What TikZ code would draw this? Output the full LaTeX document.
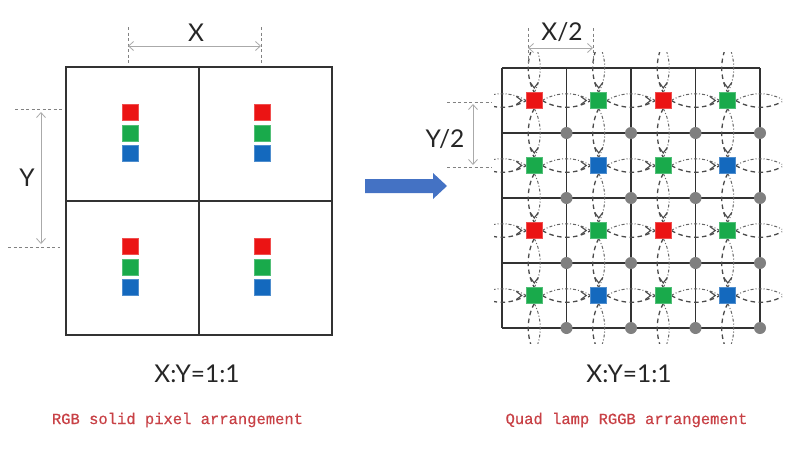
\documentclass[tikz,border=0pt]{standalone}
\usepackage{fontspec}
\setmainfont{Lato}
\setmonofont{Liberation Mono}
\usetikzlibrary{arrows.meta}
\definecolor{pxred}{RGB}{235,20,20}
\definecolor{pxgreen}{RGB}{25,170,75}
\definecolor{pxblue}{RGB}{20,105,190}
\definecolor{gridc}{RGB}{50,50,50}
\definecolor{dimc}{RGB}{170,170,170}
\definecolor{extc}{RGB}{130,130,130}
\definecolor{capc}{RGB}{200,65,70}
\definecolor{arrowblue}{RGB}{68,114,196}
\definecolor{dotc}{RGB}{128,128,128}
\definecolor{lensc}{RGB}{75,75,75}
\begin{document}
\begin{tikzpicture}[x=1pt,y=-1pt,
 px/.style={minimum size=16pt, inner sep=0pt, outer sep=0pt, fill=#1, draw=#1!75!white, line width=0.6pt},
 gridline/.style={draw=gridc, line width=1.7pt},
 dimarrow/.style={draw=dimc, line width=0.8pt, {Straight Barb[length=5pt,width=9pt]}-{Straight Barb[length=5pt,width=9pt]}},
 extline/.style={draw=extc, line width=0.9pt, dash pattern=on 3pt off 2.5pt},
 lbl/.style={font=\fontsize{24.5}{25}\selectfont, text=black!85, inner sep=0pt},
 capt/.style={font=\ttfamily\fontsize{15.5}{16}\selectfont\addfontfeature{FakeBold=0.6}, text=capc, inner sep=0pt},
 lensa/.style={draw=lensc, line width=1.3pt, dash pattern=on 4.5pt off 3.5pt},
 lensb/.style={draw=lensc!85, line width=1pt, dash pattern=on 3pt off 2pt on 1pt off 2pt},
 chev/.style={draw=lensc, line width=1.1pt},
 gdot/.style={circle, fill=dotc, minimum size=12pt, inner sep=0pt}
]
\useasboundingbox (0,0) rectangle (800,466);

% ---------- left: RGB solid pixels ----------
\draw[gridline] (66,67) rectangle (332,335);
\draw[gridline] (199,67) -- (199,335);
\draw[gridline] (66,201) -- (332,201);
\foreach \cx/\n in {130/a,262.5/b} {
  \foreach \cy/\c/\m in {112/pxred/r1,133/pxgreen/g1,153/pxblue/b1,246/pxred/r2,267/pxgreen/g2,287.5/pxblue/b2}
    \node[px=\c] (L\n\m) at (\cx,\cy) {};
}
% X dimension
\draw[extline] (128,27) -- (128,63);
\draw[extline] (261,27) -- (261,63);
\coordinate (xa) at (128,46);
\coordinate (xb) at (261,46);
\draw[dimarrow] (xa) -- (xb);
\node[lbl] (X) at (196,33) {X};
% Y dimension
\draw[extline] (15,109) -- (63,109);
\draw[extline] (8,247) -- (60,247);
\coordinate (ya) at (41,112);
\coordinate (yb) at (41,244);
\draw[dimarrow] (ya) -- (yb);
\node[lbl] (Y) at (27,178) {Y};

% ---------- blue arrow ----------
\fill[arrowblue] (365,179) -- (433,179) -- (433,173) -- (447,186) -- (433,199) -- (433,193) -- (365,193) -- cycle;

% ---------- right: quad lamp RGGB ----------
\foreach \k in {0,...,4} {
  \pgfmathsetmacro\gx{502+64.5*\k}
  \pgfmathsetmacro\gy{68+65*\k}
  \draw[gridline] (\gx,68) -- (\gx,328);
  \draw[gridline] (502,\gy) -- (760,\gy);
}
\begin{scope}
\clip (494,52) rectangle (782,343);
\foreach \j in {0,...,3} {
  \foreach \i in {-1,...,3} {
    \pgfmathsetmacro\xa{534.25+64.5*\i+8}
    \pgfmathsetmacro\xb{534.25+64.5*(\i+1)-8}
    \pgfmathsetmacro\yc{100.5+65*\j}
    \draw[lensb] (\xa,\yc) .. controls +(15,-9) and +(-15,-9) .. (\xb,\yc);
    \draw[lensa] (\xa,\yc) .. controls +(15,9) and +(-15,9) .. (\xb,\yc);
  }
}
\foreach \i in {0,...,3} {
  \foreach \j in {-1,...,3} {
    \pgfmathsetmacro\xc{534.25+64.5*\i}
    \pgfmathsetmacro\ya{100.5+65*\j+8}
    \pgfmathsetmacro\yb{100.5+65*(\j+1)-8}
    \draw[lensa] (\xc,\ya) .. controls +(-8,15) and +(-8,-15) .. (\xc,\yb);
    \draw[lensb] (\xc,\ya) .. controls +(8,15) and +(8,-15) .. (\xc,\yb);
  }
}
\end{scope}
\foreach \k in {1,...,4} {
  \foreach \l in {1,...,4} {
    \pgfmathsetmacro\gx{502+64.5*\k}
    \pgfmathsetmacro\gy{68+65*\l}
    \node[gdot] (D\k\l) at (\gx,\gy) {};
  }
}
\foreach \i/\j/\c in {0/0/pxred,1/0/pxgreen,2/0/pxred,3/0/pxgreen,
                      0/1/pxgreen,1/1/pxblue,2/1/pxgreen,3/1/pxblue,
                      0/2/pxred,1/2/pxgreen,2/2/pxred,3/2/pxgreen,
                      0/3/pxgreen,1/3/pxblue,2/3/pxgreen,3/3/pxblue} {
  \pgfmathsetmacro\xc{534.25+64.5*\i}
  \pgfmathsetmacro\yc{100.5+65*\j}
  \node[px=\c] (P\i\j) at (\xc,\yc) {};
  \draw[chev] (\xc-4,\yc-18) -- (\xc,\yc-12.5) -- (\xc+4,\yc-18);
  \draw[chev] (\xc-18,\yc-4) -- (\xc-12.5,\yc) -- (\xc-18,\yc+4);
}
% X/2 dimension
\draw[extline] (528,28) -- (528,65);
\draw[extline] (593,28) -- (593,65);
\coordinate (xha) at (528,48);
\coordinate (xhb) at (593,48);
\draw[dimarrow] (xha) -- (xhb);
\node[lbl] (X2) at (562,32) {X/2};
% Y/2 dimension
\draw[extline] (447,102) -- (492,102);
\draw[extline] (447,167) -- (492,167);
\coordinate (yha) at (473,104);
\coordinate (yhb) at (473,165);
\draw[dimarrow] (yha) -- (yhb);
\node[lbl] (Y2) at (445,139) {Y/2};

% ---------- captions ----------
\node[lbl] (R1) at (197,374) {X:Y=1:1};
\node[lbl] (R2) at (629,374) {X:Y=1:1};
\node[capt] (C1) at (177.5,420) {RGB solid pixel arrangement};
\node[capt] (C2) at (626.5,420) {Quad lamp RGGB arrangement};
\end{tikzpicture}
\end{document}
